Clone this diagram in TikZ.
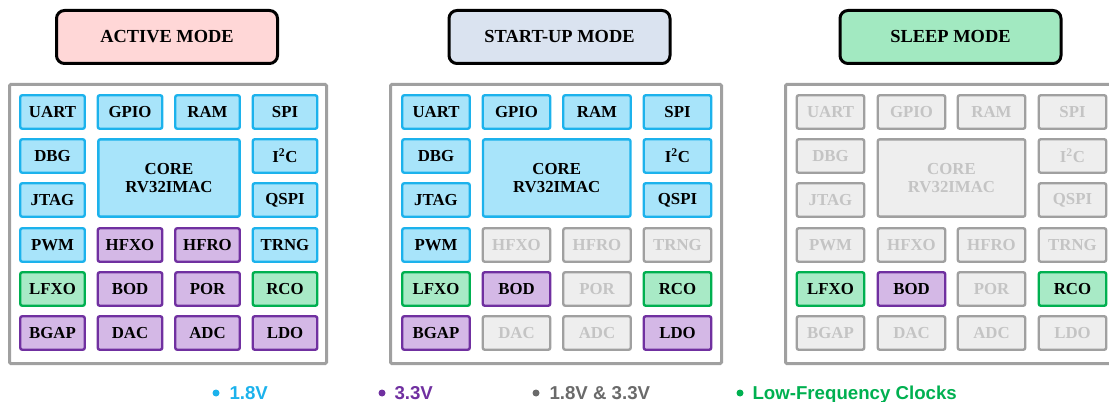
\documentclass[tikz,border=0pt]{standalone}
\usepackage{fontspec}
\setmainfont{Liberation Serif}
\newfontfamily\legendfont{Liberation Sans}

\definecolor{onblue}{HTML}{1CB2EC}
\definecolor{onbluefill}{HTML}{A8E4FA}
\definecolor{onpurple}{HTML}{7030A0}
\definecolor{onpurplefill}{HTML}{D4B8E6}
\definecolor{ongreen}{HTML}{00B050}
\definecolor{ongreenfill}{HTML}{A8EAC6}
\definecolor{offgray}{HTML}{A0A0A0}
\definecolor{offgrayfill}{HTML}{EEEEEE}
\definecolor{offtext}{HTML}{C4C4C4}
\definecolor{legendgray}{HTML}{6A6A6A}
\definecolor{activefill}{HTML}{FFD7D7}
\definecolor{startfill}{HTML}{DAE3F0}
\definecolor{sleepfill}{HTML}{A2E9C1}

\tikzset{
  every picture/.style={line width=0.75pt},
  cell/.style={draw, line width=1.8pt, rounded corners=1.5pt, inner sep=0pt,
    minimum width=50.6pt, minimum height=25.1pt, align=center,
    font=\fontsize{12.6pt}{13.5pt}\selectfont\bfseries},
  corecell/.style={minimum width=110.6pt, minimum height=58pt},
  blueon/.style={cell, draw=onblue, fill=onbluefill},
  purpleon/.style={cell, draw=onpurple, fill=onpurplefill},
  greenon/.style={cell, draw=ongreen, fill=ongreenfill},
  grayoff/.style={cell, draw=offgray, fill=offgrayfill, text=offtext},
  panel/.style={draw=offgray, line width=2.25pt, rounded corners=1pt},
  modetitle/.style={draw=black, line width=2.25pt, rounded corners=6pt,
    minimum width=165.75pt, minimum height=39.75pt,
    font=\fontsize{13.8pt}{15pt}\selectfont\bfseries},
  legendtext/.style={anchor=base west, inner sep=0pt,
    font=\legendfont\fontsize{14pt}{16pt}\selectfont\bfseries}
}

\begin{document}
\begin{tikzpicture}[x=0.75pt,y=0.75pt,yscale=-1,xscale=1]
\useasboundingbox (0,0) rectangle (1109,402);

% mode titles
\node[modetitle, fill=activefill] (act-title) at (167,37) {ACTIVE MODE};
\node[modetitle, fill=startfill] (st-title) at (559.5,37) {START-UP MODE};
\node[modetitle, fill=sleepfill] (sl-title) at (950.5,37) {SLEEP MODE};

% panels
\draw[panel] (9.5,84.5) rectangle (326.5,363.5);
\draw[panel] (390.5,84.5) rectangle (721.5,363.5);
\draw[panel] (785.5,84.5) rectangle (1116.5,363.5);

% active mode
\begin{scope}[cell/.append style={minimum width=48.4pt}, corecell/.append style={minimum width=106pt}]
\node[blueon] (act-uart) at (52.5,112) {UART};
\node[blueon] (act-gpio) at (130,112) {GPIO};
\node[blueon] (act-ram) at (207.5,112) {RAM};
\node[blueon] (act-spi) at (285,112) {SPI};
\node[blueon] (act-dbg) at (52.5,156) {DBG};
\node[blueon, corecell] (act-core) at (169,178) {CORE\\RV32IMAC};
\node[blueon] (act-i2c) at (285,156) {I\textsuperscript{2}C};
\node[blueon] (act-jtag) at (52.5,200) {JTAG};
\node[blueon] (act-qspi) at (285,200) {QSPI};
\node[blueon] (act-pwm) at (52.5,245) {PWM};
\node[purpleon] (act-hfxo) at (130,245) {HFXO};
\node[purpleon] (act-hfro) at (207.5,245) {HFRO};
\node[blueon] (act-trng) at (285,245) {TRNG};
\node[greenon] (act-lfxo) at (52.5,289) {LFXO};
\node[purpleon] (act-bod) at (130,289) {BOD};
\node[purpleon] (act-por) at (207.5,289) {POR};
\node[greenon] (act-rco) at (285,289) {RCO};
\node[purpleon] (act-bgap) at (52.5,333) {BGAP};
\node[purpleon] (act-dac) at (130,333) {DAC};
\node[purpleon] (act-adc) at (207.5,333) {ADC};
\node[purpleon] (act-ldo) at (285,333) {LDO};
\end{scope}

% start-up mode
\node[blueon] (st-uart) at (436,112) {UART};
\node[blueon] (st-gpio) at (516.5,112) {GPIO};
\node[blueon] (st-ram) at (597,112) {RAM};
\node[blueon] (st-spi) at (677.5,112) {SPI};
\node[blueon] (st-dbg) at (436,156) {DBG};
\node[blueon, corecell] (st-core) at (556.75,178) {CORE\\RV32IMAC};
\node[blueon] (st-i2c) at (677.5,156) {I\textsuperscript{2}C};
\node[blueon] (st-jtag) at (436,200) {JTAG};
\node[blueon] (st-qspi) at (677.5,200) {QSPI};
\node[blueon] (st-pwm) at (436,245) {PWM};
\node[grayoff] (st-hfxo) at (516.5,245) {HFXO};
\node[grayoff] (st-hfro) at (597,245) {HFRO};
\node[grayoff] (st-trng) at (677.5,245) {TRNG};
\node[greenon] (st-lfxo) at (436,289) {LFXO};
\node[purpleon] (st-bod) at (516.5,289) {BOD};
\node[grayoff] (st-por) at (597,289) {POR};
\node[greenon] (st-rco) at (677.5,289) {RCO};
\node[purpleon] (st-bgap) at (436,333) {BGAP};
\node[grayoff] (st-dac) at (516.5,333) {DAC};
\node[grayoff] (st-adc) at (597,333) {ADC};
\node[purpleon] (st-ldo) at (677.5,333) {LDO};

% sleep mode
\node[grayoff] (sl-uart) at (830.5,112) {UART};
\node[grayoff] (sl-gpio) at (911.5,112) {GPIO};
\node[grayoff] (sl-ram) at (991.5,112) {RAM};
\node[grayoff] (sl-spi) at (1072.5,112) {SPI};
\node[grayoff] (sl-dbg) at (830.5,156) {DBG};
\node[grayoff, corecell] (sl-core) at (951.5,178) {CORE\\RV32IMAC};
\node[grayoff] (sl-i2c) at (1072.5,156) {I\textsuperscript{2}C};
\node[grayoff] (sl-jtag) at (830.5,200) {JTAG};
\node[grayoff] (sl-qspi) at (1072.5,200) {QSPI};
\node[grayoff] (sl-pwm) at (830.5,245) {PWM};
\node[grayoff] (sl-hfxo) at (911.5,245) {HFXO};
\node[grayoff] (sl-hfro) at (991.5,245) {HFRO};
\node[grayoff] (sl-trng) at (1072.5,245) {TRNG};
\node[greenon] (sl-lfxo) at (830.5,289) {LFXO};
\node[purpleon] (sl-bod) at (911.5,289) {BOD};
\node[grayoff] (sl-por) at (991.5,289) {POR};
\node[greenon] (sl-rco) at (1072.5,289) {RCO};
\node[grayoff] (sl-bgap) at (830.5,333) {BGAP};
\node[grayoff] (sl-dac) at (911.5,333) {DAC};
\node[grayoff] (sl-adc) at (991.5,333) {ADC};
\node[grayoff] (sl-ldo) at (1072.5,333) {LDO};

% legend
\fill[onblue] (216,393) circle (3.5);
\node[legendtext, text=onblue] (leg-low) at (229,399) {1.8V};
\fill[onpurple] (382,393) circle (3.5);
\node[legendtext, text=onpurple] (leg-high) at (394,399) {3.3V};
\fill[legendgray] (536,393) circle (3.5);
\node[legendtext, text=legendgray] (leg-both) at (549,399) {1.8V \& 3.3V};
\fill[ongreen] (740,393) circle (3.5);
\node[legendtext, text=ongreen] (leg-lfclk) at (752,399) {Low-Frequency Clocks};

\end{tikzpicture}
\end{document}
